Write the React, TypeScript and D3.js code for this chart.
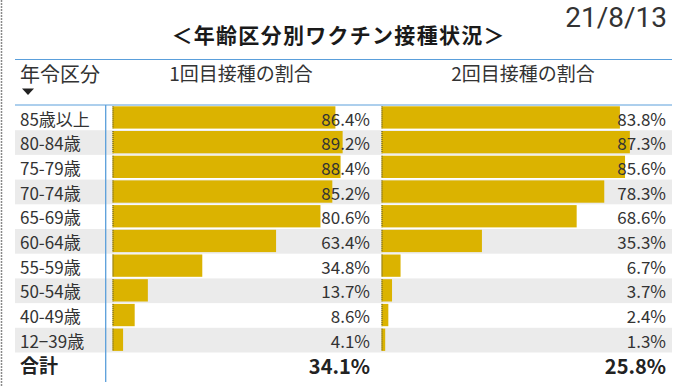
import React from "react";
import * as d3 from "d3";

const categories = ["85歳以上", "80-84歳", "75-79歳", "70-74歳", "65-69歳", "60-64歳", "55-59歳", "50-54歳", "40-49歳", "12−39歳"];
const dose1 = [86.4, 89.2, 88.4, 85.2, 80.6, 63.4, 34.8, 13.7, 8.6, 4.1];
const dose2 = [83.8, 87.3, 85.6, 78.3, 68.6, 35.3, 6.7, 3.7, 2.4, 1.3];
const totalLabel = "合計";
const total1 = 34.1;
const total2 = 25.8;
const title = "＜年齢区分別ワクチン接種状況＞";
const dateLabel = "21/8/13";
const headers = ["年令区分", "1回目接種の割合", "2回目接種の割合"];

const W = 680;
const H = 386;
const FONT = "'Noto Sans CJK JP', 'Noto Sans', sans-serif";
const BAR = "#DBB300";
const BAND = "#EBEBEB";
const BLUE = "#5A9FDB";
const TXT = "#333333";

export default function App() {
  const y = d3.scaleBand<string>().domain(categories).range([105.5, 352.5]).paddingInner(0).paddingOuter(0);
  const x1 = d3.scaleLinear().domain([0, 100]).range([112.5, 370.5]);
  const x2 = d3.scaleLinear().domain([0, 100]).range([381.5, 666]);
  const fmt = (v: number) => d3.format(".1f")(v) + "%";
  const bw = y.bandwidth();

  return (
    <svg width={W} height={H} style={{ position: "absolute", left: 0, top: 0, background: "#fff" }} fontFamily={FONT}>
      <rect x={0} y={0} width={W} height={H} fill="#fff" />
      <line x1={1.5} x2={1.5} y1={0} y2={H} stroke="#8a8a8a" strokeWidth={1.5} strokeDasharray="2,1" />
      <text x={338} y={43} textAnchor="middle" fontSize={21} fontWeight="bold" fill="#1a1a1a" textLength={333} lengthAdjust="spacing">{title}</text>
      <text x={667} y={27} textAnchor="end" fontSize={28} fill="#333" fontFamily="Roboto, 'Liberation Sans', sans-serif">{dateLabel}</text>

      <line x1={15} x2={672} y1={59.5} y2={59.5} stroke={BLUE} strokeWidth={1} />
      <line x1={15} x2={672} y1={105} y2={105} stroke={BLUE} strokeWidth={1} />

      <text x={20} y={82} fontSize={20} fill={TXT}>{headers[0]}</text>
      <path d="M22,88.5 L34,88.5 L28,95 Z" fill="#222" />
      <text x={241} y={81} textAnchor="middle" fontSize={19} fill={TXT}>{headers[1]}</text>
      <text x={523} y={81} textAnchor="middle" fontSize={19} fill={TXT}>{headers[2]}</text>

      {categories.map((c, i) => {
        const top = y(c) as number;
        return (
          <g key={c}>
            {i % 2 === 1 && <rect x={15} y={top} width={657} height={bw} fill={BAND} />}
            <rect x={x1(0)} y={top + 0.8} width={x1(dose1[i]) - x1(0)} height={bw - 2.4} fill={BAR} />
            <rect x={x2(0)} y={top + 0.8} width={x2(dose2[i]) - x2(0)} height={bw - 2.4} fill={BAR} />
            <line x1={x1(0) + 0.5} x2={x1(0) + 0.5} y1={top + 0.8} y2={top + bw - 1.6} stroke="#4a4a3a" strokeWidth={1} strokeDasharray="1,1" />
            <line x1={x2(0) + 0.5} x2={x2(0) + 0.5} y1={top + 0.8} y2={top + bw - 1.6} stroke="#4a4a3a" strokeWidth={1} strokeDasharray="1,1" />
            <text x={20} y={top + 20} fontSize={17} fill={TXT}>{c}</text>
            <text x={370} y={top + 20} textAnchor="end" fontSize={17} fill={TXT}>{fmt(dose1[i])}</text>
            <text x={666} y={top + 20} textAnchor="end" fontSize={17} fill={TXT}>{fmt(dose2[i])}</text>
          </g>
        );
      })}

      <text x={20} y={373} fontSize={19} fontWeight="bold" fill="#222">{totalLabel}</text>
      <text x={370} y={374} textAnchor="end" fontSize={20} fontWeight="bold" fill="#222">{fmt(total1)}</text>
      <text x={666} y={374} textAnchor="end" fontSize={20} fontWeight="bold" fill="#222">{fmt(total2)}</text>

      <line x1={105.7} x2={105.7} y1={105} y2={382} stroke={BLUE} strokeWidth={1.3} />
    </svg>
  );
}
